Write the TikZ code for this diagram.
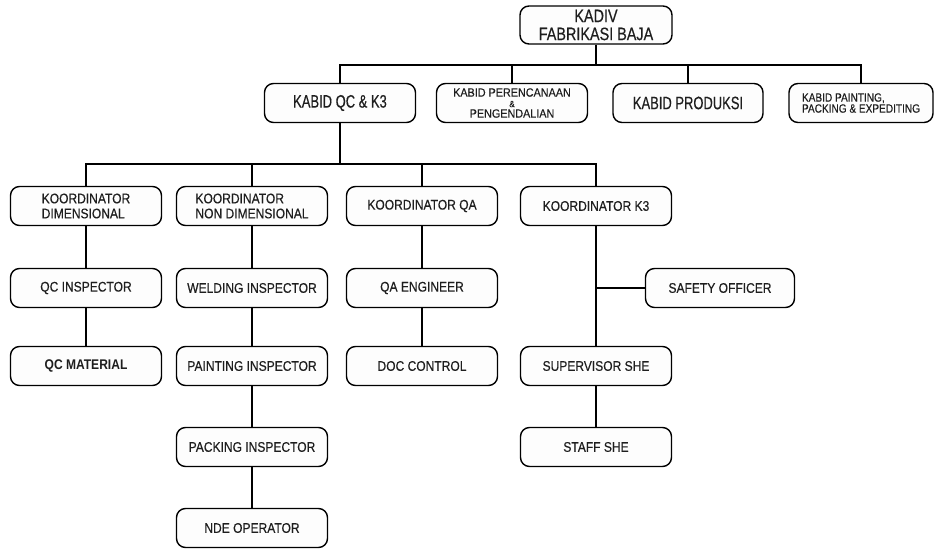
\documentclass[tikz,border=0pt]{standalone}
\usepackage{fontspec}
\setmainfont{Liberation Sans}
\newfontfamily\fsmall[FakeStretch=0.86,FakeBold=0.4]{Liberation Sans}
\newfontfamily\fbig[FakeStretch=0.72,FakeBold=0.4]{Liberation Sans}
\newfontfamily\fkadiv[FakeStretch=0.8,FakeBold=0.4]{Liberation Sans}
\newfontfamily\ftiny[FakeStretch=0.9,FakeBold=0.3]{Liberation Sans}
\newfontfamily\fpaint[FakeStretch=0.84,FakeBold=0.3]{Liberation Sans}
\newfontfamily\fbold[FakeStretch=0.86]{Liberation Sans Bold}
\definecolor{txt}{HTML}{1E1E1E}
\definecolor{boxfill}{HTML}{FDFDFD}
\tikzset{
  box/.style={draw=black, line width=1.4pt, rounded corners=9pt, fill=boxfill,
    minimum width=151pt, minimum height=39pt, inner sep=0pt, align=center,
    text=txt, font=\fsmall\fontsize{14}{15}\selectfont},
  bigbox/.style={box, font=\fbig\fontsize{18}{19}\selectfont},
  conn/.style={draw=black, line width=1.2pt}
}
\begin{document}
\begin{tikzpicture}[x=1pt,y=-1pt]
\useasboundingbox (0,0) rectangle (935,549);
\fill[white] (0,0) rectangle (935,549);
% top
\node[box, minimum width=152pt, minimum height=38pt, font=\fkadiv\fontsize{18}{19}\selectfont] (kadiv) at (596,25) {KADIV\\[-1pt]FABRIKASI BAJA};
% kabid row
\node[box, font=\ftiny\fontsize{12}{10.5}\selectfont] (kper) at (512,103) {KABID PERENCANAAN\\{\fontsize{9}{9}\selectfont\&}\\PENGENDALIAN};
\node[bigbox] (kqc) at (340,103) {KABID QC \& K3};
\node[bigbox, minimum width=150pt] (kprod) at (688,103) {KABID PRODUKSI};
\node[box, minimum width=144pt, align=left, font=\fpaint\fontsize{12}{11}\selectfont] (kpaint) at (861,103) {KABID PAINTING,\\PACKING \& EXPEDITING};
% koordinator row
\node[box, align=left] (kdim) at (86,206) {KOORDINATOR\\DIMENSIONAL};
\node[box, align=left] (knd) at (252,206) {KOORDINATOR\\NON DIMENSIONAL};
\node[box] (kqa) at (422,206) {KOORDINATOR QA};
\node[box] (kk3) at (596,206) {KOORDINATOR K3};
% row 2
\node[box] (qci) at (86,288) {QC INSPECTOR};
\node[box] (weld) at (252,288) {WELDING INSPECTOR};
\node[box] (qae) at (422,288) {QA ENGINEER};
\node[box, minimum width=149pt] (safe) at (720,288) {SAFETY OFFICER};
% row 3
\node[box, font=\fbold\fontsize{14}{15}\selectfont] (qcm) at (86,366) {QC MATERIAL};
\node[box] (paint) at (252,366) {PAINTING INSPECTOR};
\node[box] (doc) at (422,366) {DOC CONTROL};
\node[box] (sup) at (596,366) {SUPERVISOR SHE};
% row 4
\node[box] (pack) at (252,447) {PACKING INSPECTOR};
\node[box] (staff) at (596,447) {STAFF SHE};
% row 5
\node[box] (nde) at (252,528) {NDE OPERATOR};
% connectors top level
\coordinate (b1) at (596,65);
\draw[conn] (kadiv.south) -- (b1);
\draw[conn] (kqc.north) -- (kqc.north |- b1) -- (kpaint.north |- b1) -- (kpaint.north);
\draw[conn] (kper.north) -- (kper.north |- b1);
\draw[conn] (kprod.north) -- (kprod.north |- b1);
% second level
\coordinate (b2) at (340,164);
\draw[conn] (kqc.south) -- (b2);
\draw[conn] (kdim.north) -- (kdim.north |- b2) -- (kk3.north |- b2) -- (kk3.north);
\draw[conn] (knd.north) -- (knd.north |- b2);
\draw[conn] (kqa.north) -- (kqa.north |- b2);
% columns
\draw[conn] (kdim) -- (qci);
\draw[conn] (qci) -- (qcm);
\draw[conn] (knd) -- (weld);
\draw[conn] (weld) -- (paint);
\draw[conn] (paint) -- (pack);
\draw[conn] (pack) -- (nde);
\draw[conn] (kqa) -- (qae);
\draw[conn] (qae) -- (doc);
\draw[conn] (kk3) -- (sup);
\draw[conn] (sup) -- (staff);
\draw[conn] (safe.west) -- (safe.west -| kk3.south);
\end{tikzpicture}
\end{document}
